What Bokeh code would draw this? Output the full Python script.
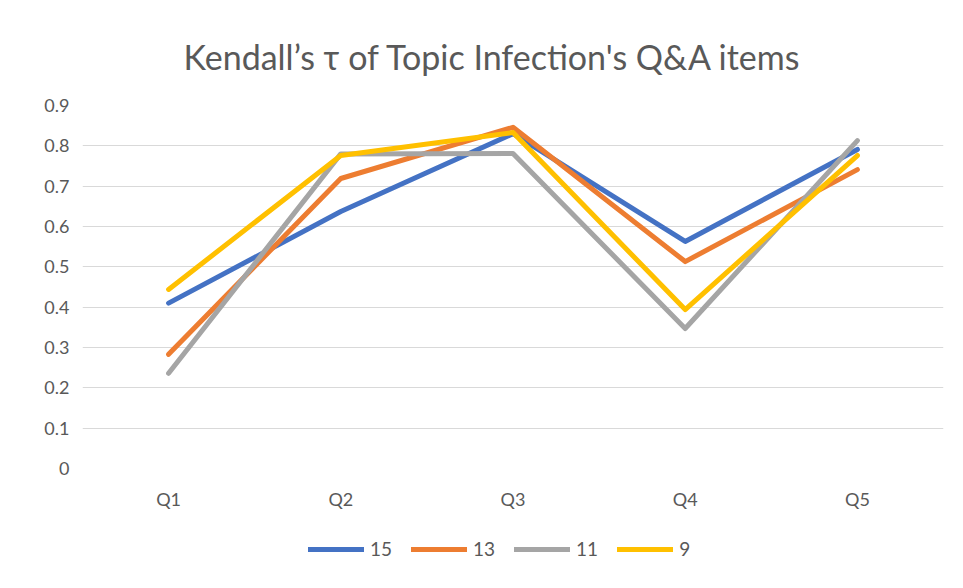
from bokeh.plotting import figure
from bokeh.layouts import column
from bokeh.models import ColumnDataSource, FactorRange, Range1d, FixedTicker, Legend, LegendItem, Title
from bokeh.embed import file_html
from bokeh.resources import INLINE

categories = ["Q1", "Q2", "Q3", "Q4", "Q5"]
series_names = ["15", "13", "11", "9"]
s15 = [0.41, 0.637, 0.83, 0.563, 0.791]
s13 = [0.283, 0.719, 0.846, 0.513, 0.741]
s11 = [0.236, 0.780, 0.781, 0.347, 0.813]
s9 = [0.444, 0.776, 0.833, 0.394, 0.776]
y_ticks = [0, 0.1, 0.2, 0.3, 0.4, 0.5, 0.6, 0.7, 0.8, 0.9]
colors = ["#4472C4", "#ED7D31", "#A5A5A5", "#FFC000"]

FONT = "Lato"
TXT = "#595959"

p = figure(width=955, height=520, x_range=FactorRange(factors=categories),
           y_range=Range1d(0, 0.9), output_backend="svg", toolbar_location=None,
           min_border_left=82, min_border_right=12, min_border_top=105, min_border_bottom=52)

p.title = Title(text="Kendall’s τ of Topic Infection's Q&A items", align="left",
                text_font=FONT, text_font_size="34px", text_font_style="normal",
                text_color=TXT, offset=101, standoff=58)
p.outline_line_color = None

p.xgrid.grid_line_color = None
p.ygrid.grid_line_color = "#d9d9d9"
p.ygrid.grid_line_width = 1
p.yaxis.ticker = FixedTicker(ticks=y_ticks)

for ax in (p.xaxis[0], p.yaxis[0]):
    ax.axis_line_color = None
    ax.major_tick_line_color = None
    ax.minor_tick_line_color = None
    ax.major_tick_out = 0
    ax.major_tick_in = 0
    ax.major_label_text_font = FONT
    ax.major_label_text_font_size = "18px"
    ax.major_label_text_color = TXT
p.yaxis.major_label_standoff = 13
p.xaxis.major_label_standoff = 19

series = [s15, s13, s11, s9]
for vals, c in zip(series, colors):
    src = ColumnDataSource(dict(x=categories, y=vals))
    p.line("x", "y", source=src, line_color=c, line_width=5,
           line_cap="round", line_join="round")

# legend strip below the chart (its lines reuse the series data, off-range)
lp = figure(width=955, height=60, x_range=Range1d(10, 11), y_range=Range1d(10, 11),
            output_backend="svg", toolbar_location=None,
            min_border_left=82, min_border_right=12, min_border_top=0, min_border_bottom=0)
lp.axis.visible = False
lp.grid.visible = False
lp.outline_line_color = None
items = []
for name, vals, c in zip(series_names, series, colors):
    r = lp.line(x=list(range(len(vals))), y=vals, line_color=c, line_width=5, line_cap="round")
    items.append(LegendItem(label=name, renderers=[r]))
legend = Legend(items=items, orientation="horizontal", location=(226, 20),
                border_line_color=None, background_fill_alpha=0,
                label_text_font=FONT, label_text_font_size="19px", label_text_color=TXT,
                glyph_width=56, glyph_height=20, label_standoff=6, spacing=19,
                padding=0, margin=0)
lp.add_layout(legend, "center")

layout = column(p, lp, spacing=0)
open("out.html", "w").write(file_html(layout, INLINE))
